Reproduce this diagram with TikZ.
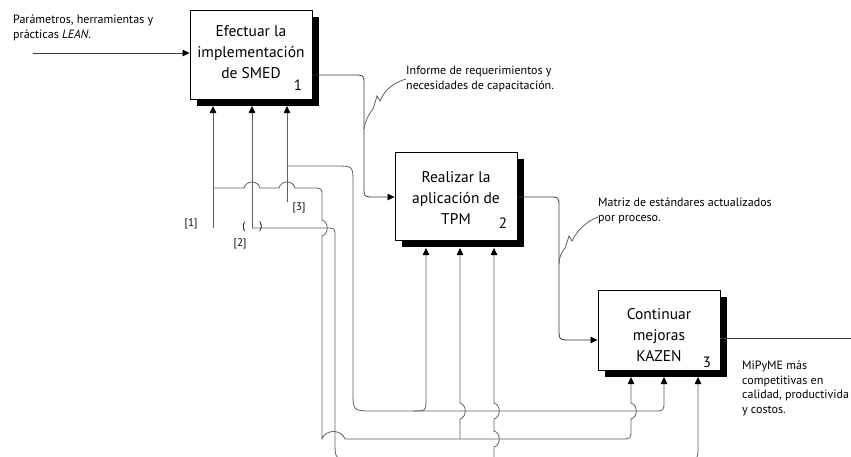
\documentclass[tikz,border=0pt]{standalone}
\usepackage{fontspec}
\setmainfont{PT Sans}
\usetikzlibrary{arrows.meta,shadows}
\definecolor{ln}{RGB}{95,95,95}
\definecolor{mn}{RGB}{60,60,60}
\begin{document}
\begin{tikzpicture}[x=1pt,y=-1pt,
  proc/.style={draw=black,line width=0.9pt,fill=white,minimum width=122pt,inner sep=0pt,
    drop shadow={shadow xshift=7pt,shadow yshift=-7pt,fill=black,opacity=1}},
  ptext/.style={align=center,inner sep=0pt,font=\fontsize{15.5}{21}\selectfont},
  conn/.style={draw=ln,line width=0.8pt},
  main/.style={draw=mn,line width=0.8pt},
  tip/.style={-{Triangle[length=7pt,width=6.5pt,color=black]}},
  lbl/.style={font=\fontsize{12}{14.5}\selectfont,inner sep=0pt,align=left,anchor=north west},
  tag/.style={font=\fontsize{11}{12}\selectfont,inner sep=0pt},
  num/.style={font=\fontsize{15}{15}\selectfont,inner sep=0pt},
]
\useasboundingbox (0,0) rectangle (851,456);

% boxes
\node[proc,minimum height=89pt] (b1) at (251,54.5) {};
\node[proc,minimum height=88pt] (b2) at (456,196) {};
\node[proc,minimum height=80pt] (b3) at (659,330) {};
\node[ptext] (b1t) at (251,52) {Efectuar la\\implementación\\de SMED};
\node[ptext] (b2t) at (456,198) {Realizar la\\aplicación de\\TPM};
\node[ptext] (b3t) at (659,335) {Continuar\\mejoras\\KAZEN};
\node[num] (n1) at (298,85) {1};
\node[num] (n2) at (503,223) {2};
\node[num] (n3) at (707,362) {3};

% texts
\node[lbl] (tin) at (13,15) {Parámetros, herramientas y\\prácticas \textit{LEAN}.};
\node[lbl] (tc1) at (406,66) {Informe de requerimientos y\\necesidades de capacitación.};
\node[lbl] (tc2) at (598,198) {Matriz de estándares actualizados\\por proceso.};
\node[lbl] (tout) at (742,361) {MiPyME más\\competitivas en\\calidad, productivida\\y costos.};
\node[tag] (l1) at (191,224) {[1]};
\node[tag] (l2) at (240,244) {[2]};
\node[tag] (l3) at (299,208) {[3]};
\node[tag] (p1) at (244,227) {(};
\node[tag] (p2) at (261,227) {)};

% coordinates
\coordinate (in) at (33,53);
\coordinate (out) at (851,338);
\coordinate (s1) at (213,228);
\coordinate (s2) at (252,228);
\coordinate (s3) at (287,202);
\coordinate (a11) at (213,106);
\coordinate (a12) at (252,106);
\coordinate (a13) at (287,106);
\coordinate (a21) at (426,248);
\coordinate (a22) at (460,248);
\coordinate (a23) at (494,248);
\coordinate (a31) at (631,377);
\coordinate (a32) at (664,377);
\coordinate (a33) at (698,377);

% main flow
\draw[main,tip] (in) -- (in -| b1.west);
\draw[main,tip] (b1.east |- 0,75) -- (354,75) .. controls (364,75) .. (364,85) -- (364,187) .. controls (364,197) .. (374,197) -- (b2.west |- 0,197);
\draw[main,tip] (b2.east |- 0,197) -- (549,197) .. controls (559,197) .. (559,207) -- (559,328) .. controls (559,340) .. (571,340) -- (b3.west |- 0,340);
\draw[main] (b3.east |- 0,338) -- (out);

% callouts
\draw[conn] (tc1.west |- 0,79) .. controls (390,84) and (384,92) .. (380,101) -- (377,96) -- (373,109) .. controls (368,115) and (365,122) .. (364,129);
\draw[conn] (tc2.west |- 0,217) .. controls (585,222) and (577,231) .. (572,241) -- (569,236) -- (565,248) .. controls (561,253) and (559,258) .. (559,264);

% network [1]
\draw[conn,tip] (s1) -- (a11);
\draw[conn,tip] (213,188) -- (244,188) .. controls (246,180) and (258,180) .. (260,188) -- (279,188) .. controls (281,180) and (293,180) .. (295,188) -- (313,188) .. controls (322,188) .. (322,197) -- (322,220) .. controls (329,222) and (329,234) .. (322,236) -- (322,439) .. controls (325,429) and (342,429) .. (345,439) -- (621,439) .. controls (631,439) .. (631,429) -- (631,419) .. controls (638,417) and (638,405) .. (631,403) -- (a31);
\draw[conn,tip] (460,439) -- (460,419) .. controls (467,417) and (467,405) .. (460,403) -- (a22);

% network [2]
\draw[conn,tip] (s2) -- (a12);
\draw[conn,tip] (s2) -- (326,228) .. controls (335,228) .. (335,237) -- (335,442) .. controls (335,459) .. (352,459) -- (686,459) .. controls (698,459) .. (698,447) -- (a33);
\draw[conn,tip] (494,459) -- (494,447) .. controls (501,445) and (501,433) .. (494,431) -- (494,419) .. controls (501,417) and (501,405) .. (494,403) -- (a23);

% network [3]
\draw[conn,tip] (s3) -- (a13);
\draw[conn,tip] (287,166) -- (336,166) .. controls (353,166) .. (353,183) -- (353,391) .. controls (353,411) .. (373,411) -- (654,411) .. controls (664,411) .. (664,401) -- (a32);
\draw[conn,tip] (413,411) .. controls (426,411) .. (426,398) -- (a21);
\end{tikzpicture}
\end{document}
